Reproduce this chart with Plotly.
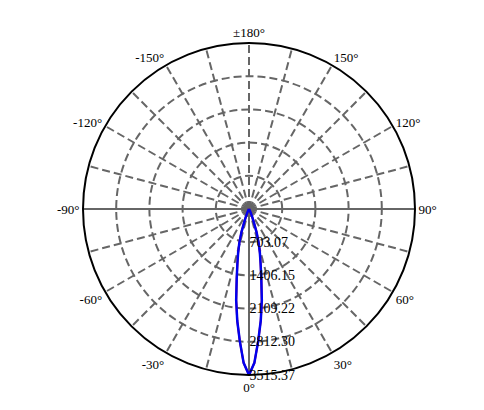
import plotly.graph_objects as go

# Half profile (symmetric beam), gamma in degrees, intensity in cd
gamma = [0, 2, 4, 6, 8, 10, 12, 14, 16, 18, 20, 22, 25, 30, 35, 40, 60, 90, 120, 150, 180]
intensity = [3515.37, 3260, 2800, 2380, 1950, 1500, 1180, 950, 740, 520, 300, 180, 80, 20, 5, 0,
             0, 0, 0, 0, 0]

radial_ticks = [703.07, 1406.15, 2109.22, 2812.30, 3515.37]
angle_ticks = list(range(0, 360, 15))
angle_names = {0: "0°", 30: "30°", 60: "60°", 90: "90°", 120: "120°", 150: "150°",
               180: "±180°", 210: "-150°", 240: "-120°", 270: "-90°", 300: "-60°",
               330: "-30°"}
angle_labels = [angle_names.get(a, "") for a in angle_ticks]

# full closed curve: -180..180
theta = [-g for g in gamma[::-1]] + gamma[1:]
r = intensity[::-1] + intensity[1:]

r_max = radial_ticks[-1]

fig = go.Figure()

# solid cross lines (90/-90 and down to 0)
fig.add_trace(go.Scatterpolar(
    r=[r_max, 0, r_max], theta=[90, 0, 270], mode="lines",
    line=dict(color="#666666", width=2), hoverinfo="skip", showlegend=False))
fig.add_trace(go.Scatterpolar(
    r=[0, r_max], theta=[0, 0], mode="lines",
    line=dict(color="#666666", width=2), hoverinfo="skip", showlegend=False))

fig.add_trace(go.Scatterpolar(
    r=r, theta=theta, mode="lines", name="C0-C180",
    line=dict(color="#ff0000", width=2), showlegend=False))
fig.add_trace(go.Scatterpolar(
    r=r, theta=theta, mode="lines", name="C90-C270",
    line=dict(color="#0000ee", width=2.5), showlegend=False))

fig.update_layout(
    width=484, height=410,
    margin=dict(l=75, r=77, t=35, b=43),
    paper_bgcolor="white",
    font=dict(family="Liberation Serif", size=13, color="black"),
    polar=dict(
        bgcolor="white",
        angularaxis=dict(
            rotation=-90, direction="counterclockwise",
            tickmode="array", tickvals=angle_ticks, ticktext=angle_labels,
            showgrid=True, gridcolor="#666666", gridwidth=2, griddash="8px,4px",
            showline=True, linecolor="black", linewidth=2, ticks="",
            tickfont=dict(size=13, family="Liberation Serif"),
        ),
        radialaxis=dict(
            range=[0, r_max], angle=-90, tickangle=-90, side="counterclockwise",
            tickmode="array", tickvals=radial_ticks,
            ticktext=["%.2f" % v for v in radial_ticks],
            showgrid=True, gridcolor="#666666", gridwidth=2, griddash="8px,4px",
            showline=False, ticks="", tickfont=dict(size=14, family="Liberation Serif"),
        ),
    ),
)

fig.write_html("out.html")
